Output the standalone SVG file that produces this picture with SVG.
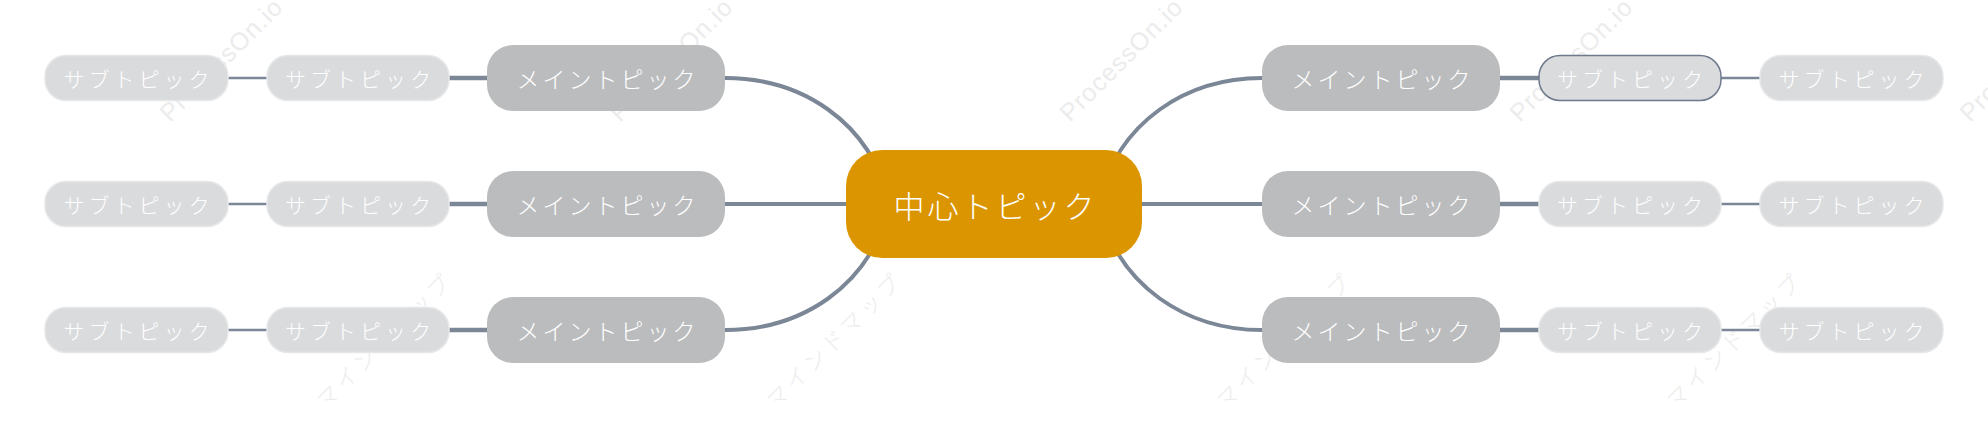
<svg xmlns="http://www.w3.org/2000/svg" width="1988" height="423" viewBox="0 0 1988 423">
<style>
.wm{font-family:"Liberation Sans","Noto Sans CJK JP",sans-serif;font-size:25px;letter-spacing:1px;fill:#ececec}
.wk{font-family:"Noto Sans CJK JP",sans-serif;font-size:22px;letter-spacing:4px;fill:#ececec;font-weight:300}
.ln{fill:none;stroke:#7b8797;stroke-linecap:butt}
.c{stroke-width:4}
.s1{stroke-width:4.5}
.s2{stroke-width:2.5}
.center rect{fill:#db9500}
.main rect{fill:#bbbcbe}
.sub rect{fill:#dadbdd;stroke:#e6e7e8;stroke-width:1.5}
.sub rect.sel{stroke:#6d7a8c;stroke-width:1.5}
text.t{font-family:"Noto Sans CJK JP",sans-serif;font-weight:300;fill:#ffffff;text-anchor:middle;dominant-baseline:central}
.center text{font-size:31px;letter-spacing:3px}
.main text{font-size:23px;letter-spacing:3px}
.sub text{font-size:21px;letter-spacing:4px}
</style>
<rect width="1988" height="423" fill="#ffffff"/>
<g id="watermarks">
<text class="wm" transform="translate(170,123) rotate(-45)">ProcessOn.io<tspan class="wk" dx="10">マインドマップ</tspan></text>
<text class="wm" transform="translate(620,123) rotate(-45)">ProcessOn.io<tspan class="wk" dx="10">マインドマップ</tspan></text>
<text class="wm" transform="translate(1070,123) rotate(-45)">ProcessOn.io<tspan class="wk" dx="10">マインドマップ</tspan></text>
<text class="wm" transform="translate(1520,123) rotate(-45)">ProcessOn.io<tspan class="wk" dx="10">マインドマップ</tspan></text>
<text class="wm" transform="translate(1970,123) rotate(-45)">ProcessOn.io<tspan class="wk" dx="10">マインドマップ</tspan></text>
<text class="wk" transform="translate(-124,410) rotate(-45)">マインドマップ</text>
<text class="wk" transform="translate(326,410) rotate(-45)">マインドマップ</text>
<text class="wk" transform="translate(776,410) rotate(-45)">マインドマップ</text>
<text class="wk" transform="translate(1226,410) rotate(-45)">マインドマップ</text>
<text class="wk" transform="translate(1676,410) rotate(-45)">マインドマップ</text>
</g>
<g id="connectors">
<path class="ln c" d="M725,78 C800,78 870,120 890,204"/>
<path class="ln c" d="M725,204 L850,204"/>
<path class="ln c" d="M725,330 C800,330 870,288 890,204"/>
<path class="ln c" d="M1262,78 C1188,78 1118,120 1098,204"/>
<path class="ln c" d="M1262,204 L1138,204"/>
<path class="ln c" d="M1262,330 C1188,330 1118,288 1098,204"/>
<path class="ln s1" d="M449,78 L487,78"/>
<path class="ln s1" d="M449,204 L487,204"/>
<path class="ln s1" d="M449,330 L487,330"/>
<path class="ln s1" d="M1500,78 L1539,78"/>
<path class="ln s1" d="M1500,204 L1539,204"/>
<path class="ln s1" d="M1500,330 L1539,330"/>
<path class="ln s2" d="M228,78 L267,78"/>
<path class="ln s2" d="M228,204 L267,204"/>
<path class="ln s2" d="M228,330 L267,330"/>
<path class="ln s2" d="M1721,78 L1760,78"/>
<path class="ln s2" d="M1721,204 L1760,204"/>
<path class="ln s2" d="M1721,330 L1760,330"/>
</g>
<g id="center" class="center"><rect x="846" y="150" width="296" height="108" rx="36"/><text class="t" x="995.5" y="204">中心トピック</text></g>
<g id="main-l1" class="main"><rect x="487" y="45" width="238" height="66" rx="26"/><text class="t" x="607.5" y="78">メイントピック</text></g>
<g id="main-l2" class="main"><rect x="487" y="171" width="238" height="66" rx="26"/><text class="t" x="607.5" y="204">メイントピック</text></g>
<g id="main-l3" class="main"><rect x="487" y="297" width="238" height="66" rx="26"/><text class="t" x="607.5" y="330">メイントピック</text></g>
<g id="main-r1" class="main"><rect x="1262" y="45" width="238" height="66" rx="26"/><text class="t" x="1382.5" y="78">メイントピック</text></g>
<g id="main-r2" class="main"><rect x="1262" y="171" width="238" height="66" rx="26"/><text class="t" x="1382.5" y="204">メイントピック</text></g>
<g id="main-r3" class="main"><rect x="1262" y="297" width="238" height="66" rx="26"/><text class="t" x="1382.5" y="330">メイントピック</text></g>
<g id="sub-l1a" class="sub"><rect x="267" y="55.5" width="182" height="45" rx="21"/><text class="t" x="360" y="78">サブトピック</text></g>
<g id="sub-l1b" class="sub"><rect x="45" y="55.5" width="183" height="45" rx="21"/><text class="t" x="138.5" y="78">サブトピック</text></g>
<g id="sub-l2a" class="sub"><rect x="267" y="181.5" width="182" height="45" rx="21"/><text class="t" x="360" y="204">サブトピック</text></g>
<g id="sub-l2b" class="sub"><rect x="45" y="181.5" width="183" height="45" rx="21"/><text class="t" x="138.5" y="204">サブトピック</text></g>
<g id="sub-l3a" class="sub"><rect x="267" y="307.5" width="182" height="45" rx="21"/><text class="t" x="360" y="330">サブトピック</text></g>
<g id="sub-l3b" class="sub"><rect x="45" y="307.5" width="183" height="45" rx="21"/><text class="t" x="138.5" y="330">サブトピック</text></g>
<g id="sub-r1a" class="sub"><rect class="sel" x="1539" y="55.5" width="182" height="45" rx="21"/><text class="t" x="1632" y="78">サブトピック</text></g>
<g id="sub-r1b" class="sub"><rect x="1760" y="55.5" width="183" height="45" rx="21"/><text class="t" x="1853.5" y="78">サブトピック</text></g>
<g id="sub-r2a" class="sub"><rect x="1539" y="181.5" width="182" height="45" rx="21"/><text class="t" x="1632" y="204">サブトピック</text></g>
<g id="sub-r2b" class="sub"><rect x="1760" y="181.5" width="183" height="45" rx="21"/><text class="t" x="1853.5" y="204">サブトピック</text></g>
<g id="sub-r3a" class="sub"><rect x="1539" y="307.5" width="182" height="45" rx="21"/><text class="t" x="1632" y="330">サブトピック</text></g>
<g id="sub-r3b" class="sub"><rect x="1760" y="307.5" width="183" height="45" rx="21"/><text class="t" x="1853.5" y="330">サブトピック</text></g>
</svg>
